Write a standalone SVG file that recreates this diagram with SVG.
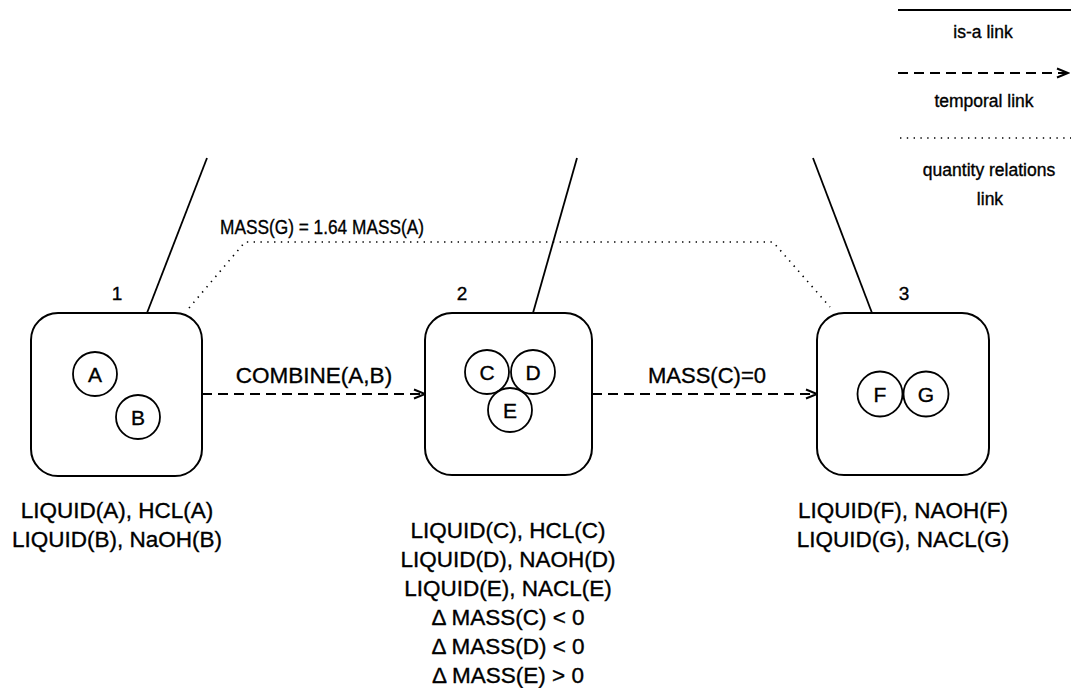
<svg xmlns="http://www.w3.org/2000/svg" width="1071" height="688" viewBox="0 0 1071 688">
  <style>
    text { font-family: "Liberation Sans", Arial, sans-serif; fill: #000; stroke: #000; stroke-width: 0.35; }
    .lbl { font-size: 22.5px; text-anchor: middle; }
    .num { font-size: 19px; text-anchor: middle; }
    .leg { font-size: 17.5px; text-anchor: middle; }
    .ent { font-size: 21px; text-anchor: middle; }
    .box { fill: #fff; stroke: #000; stroke-width: 2; }
    .obj { fill: #fff; stroke: #000; stroke-width: 1.8; }
    .isa { stroke: #000; stroke-width: 1.8; fill: none; }
    .tmp { stroke: #000; stroke-width: 1.8; fill: none; stroke-dasharray: 10 6; }
    .qty { stroke: #000; stroke-width: 1.6; fill: none; stroke-dasharray: 1.4 5.4; }
  </style>
  <defs>
    <marker id="open" markerWidth="14" markerHeight="12" refX="12" refY="6" orient="auto" markerUnits="userSpaceOnUse">
      <path d="M1,1.5 L12,6 L1,10.5" fill="none" stroke="#000" stroke-width="2"/>
    </marker>
  </defs>

  <!-- legend -->
  <g id="legend">
    <line x1="898" y1="10" x2="1071" y2="10" class="isa"/>
    <text x="983" y="38" class="leg">is-a link</text>
    <line x1="898" y1="73" x2="1068" y2="73" class="tmp" marker-end="url(#open)"/>
    <text x="984" y="107" class="leg">temporal link</text>
    <line x1="900" y1="138" x2="1071" y2="138" class="qty"/>
    <text x="989" y="176" class="leg">quantity relations</text>
    <text x="990" y="205" class="leg">link</text>
  </g>

  <!-- connectors -->
  <g id="connectors">
    <line x1="207" y1="158" x2="147" y2="313" class="isa"/>
    <line x1="577" y1="158" x2="533" y2="313" class="isa"/>
    <line x1="813" y1="158" x2="872" y2="313" class="isa"/>
    <polyline points="189,308 245,242 773,242 830,307" class="qty"/>
    <text x="220" y="234" style="font-size:20.5px" textLength="204" lengthAdjust="spacingAndGlyphs">MASS(G) = 1.64 MASS(A)</text>
    <line x1="202" y1="394" x2="425" y2="394" class="tmp" marker-end="url(#open)"/>
    <text x="314" y="383" class="lbl" style="font-size:22.5px">COMBINE(A,B)</text>
    <line x1="592" y1="394" x2="817" y2="394" class="tmp" marker-end="url(#open)"/>
    <text x="707" y="383" class="lbl" style="font-size:22px">MASS(C)=0</text>
  </g>

  <!-- situation 1 -->
  <g id="node1">
    <text x="117" y="300" class="num">1</text>
    <rect x="31" y="313" width="171" height="163" rx="27" class="box"/>
    <circle cx="95" cy="374" r="22" class="obj"/>
    <text x="95" y="381.5" class="ent">A</text>
    <circle cx="138" cy="417" r="22" class="obj"/>
    <text x="138" y="424.5" class="ent">B</text>
    <text x="117" y="518" class="lbl">LIQUID(A), HCL(A)</text>
    <text x="117" y="547" class="lbl">LIQUID(B), NaOH(B)</text>
  </g>

  <!-- situation 2 -->
  <g id="node2">
    <text x="462" y="300" class="num">2</text>
    <rect x="425" y="313" width="167" height="162" rx="27" class="box"/>
    <circle cx="487" cy="372" r="22" class="obj"/>
    <circle cx="533" cy="372" r="22" class="obj"/>
    <circle cx="510" cy="410" r="22" class="obj"/>
    <text x="487" y="379.5" class="ent">C</text>
    <text x="533" y="379.5" class="ent">D</text>
    <text x="510" y="417.5" class="ent">E</text>
    <text x="508" y="538" class="lbl">LIQUID(C), HCL(C)</text>
    <text x="508" y="567" class="lbl">LIQUID(D), NAOH(D)</text>
    <text x="508" y="596" class="lbl">LIQUID(E), NACL(E)</text>
    <text x="508" y="625" class="lbl">Δ MASS(C) &lt; 0</text>
    <text x="508" y="654" class="lbl">Δ MASS(D) &lt; 0</text>
    <text x="508" y="683" class="lbl">Δ MASS(E) &gt; 0</text>
  </g>

  <!-- situation 3 -->
  <g id="node3">
    <text x="904" y="300" class="num">3</text>
    <rect x="817" y="313" width="172" height="162" rx="27" class="box"/>
    <circle cx="880" cy="394" r="22.5" class="obj"/>
    <circle cx="926" cy="394" r="22.5" class="obj"/>
    <text x="880" y="401.5" class="ent">F</text>
    <text x="926" y="401.5" class="ent">G</text>
    <text x="903" y="518" class="lbl">LIQUID(F), NAOH(F)</text>
    <text x="903" y="547" class="lbl">LIQUID(G), NACL(G)</text>
  </g>
</svg>
